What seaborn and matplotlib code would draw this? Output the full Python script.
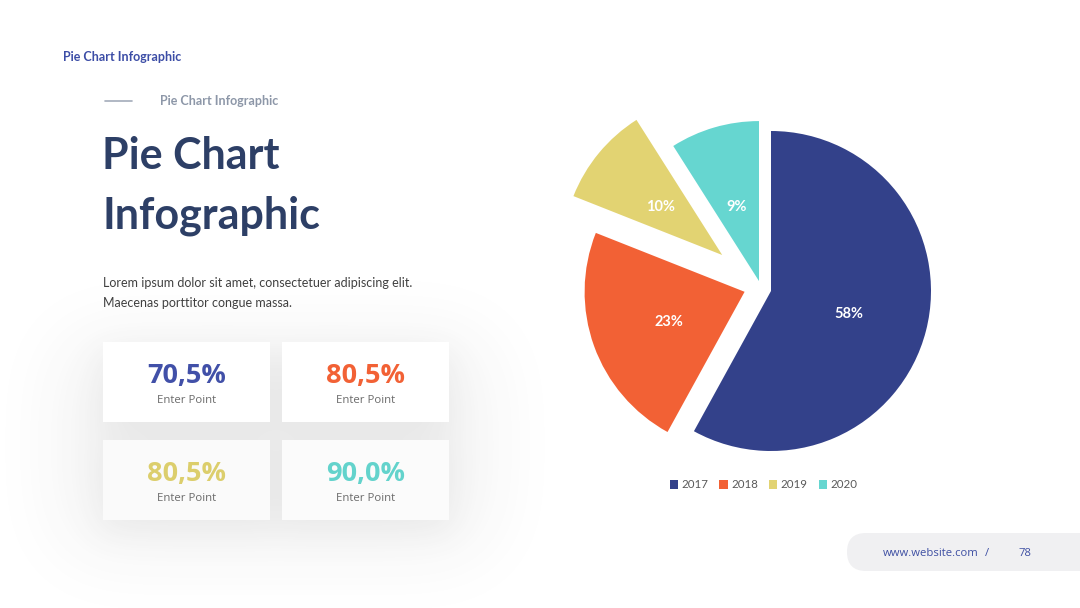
import math
import numpy as np
import matplotlib
matplotlib.use("Agg")
import matplotlib.pyplot as plt
from matplotlib.patches import Rectangle, FancyBboxPatch
import seaborn as sns

# pie data
years = ["2017", "2018", "2019", "2020"]
shares = [58, 23, 10, 9]
pie_colors = ["#33418A", "#F26135", "#E2D372", "#66D6D0"]
# how far each slice is pulled out (pie radius units, x right / y up)
slice_offsets = [(0.0, 0.0), (-0.165, -0.005), (-0.305, 0.225), (-0.075, 0.062)]

# stat cards
card_values = ["70,5%", "80,5%", "80,5%", "90,0%"]
card_labels = ["Enter Point", "Enter Point", "Enter Point", "Enter Point"]
card_colors = ["#4150A8", "#F26135", "#DCCE6C", "#63D3CC"]

header = "Pie Chart Infographic"
title_lines = ["Pie Chart", "Infographic"]
body_lines = ["Lorem ipsum dolor sit amet, consectetuer adipiscing elit.",
              "Maecenas porttitor congue massa."]

sns.set_theme(style="white")
plt.rcParams["font.family"] = ["Lato", "DejaVu Sans"]
palette = sns.color_palette(pie_colors)

W, H = 1080, 608
fig = plt.figure(figsize=(W / 100, H / 100), dpi=100, facecolor="white")

# background axes in pixel coordinates (y down)
bg = fig.add_axes([0, 0, 1, 1])
bg.set_xlim(0, W)
bg.set_ylim(H, 0)
bg.axis("off")

# soft shadow under the cards
erf = np.vectorize(math.erf)
X = np.arange(W) + 0.5
Y = np.arange(H) + 0.5


def blur_rect(x0, x1, y0, y1, s):
    k = s * math.sqrt(2)
    gx = 0.5 * (erf((X - x0) / k) - erf((X - x1) / k))
    gy = 0.5 * (erf((Y - y0) / k) - erf((Y - y1) / k))
    return np.outer(gy, gx)


card_boxes = [(103, 270, 342, 422), (282, 449, 342, 422),
              (103, 270, 440, 520), (282, 449, 440, 520)]
shade = np.zeros((H, W))
for x0, x1, y0, y1 in card_boxes:
    shade += 0.05 * blur_rect(x0 - 4, x1 + 4, y0 + 6, y1 + 14, 16)
shade += 0.075 * blur_rect(70, 480, 345, 545, 40)
shade = np.clip(shade, 0, 1)
rgba = np.zeros((H, W, 4))
rgba[..., :3] = 0.25
rgba[..., 3] = shade
bg.imshow(rgba, extent=(0, W, H, 0), zorder=1, interpolation="bilinear", aspect="auto")

card_face = ["#FFFFFF", "#FFFFFF", "#FAFAFA", "#FBFBFB"]
for (x0, x1, y0, y1), val, lab, col, face in zip(card_boxes, card_values, card_labels,
                                                 card_colors, card_face):
    bg.add_patch(Rectangle((x0, y0), x1 - x0, y1 - y0, facecolor=face,
                           edgecolor="none", zorder=2))
    cx = (x0 + x1) / 2
    bg.text(cx, y0 + 41, val, ha="center", va="baseline", fontsize=19.5,
            fontweight="bold", color=col, family=["Open Sans", "DejaVu Sans"], zorder=3)
    bg.text(cx, y0 + 61, lab, ha="center", va="baseline", fontsize=8.2,
            color="#6A6A6A", family=["Open Sans", "DejaVu Sans"], zorder=3)

# header texts
bg.text(63, 61, header, ha="left", va="baseline", fontsize=9,
        fontweight="bold", color="#3C4DA6")
bg.plot([105, 132], [100.5, 100.5], color="#A3ABBA", lw=1.2)
bg.text(160, 105, header, ha="left", va="baseline", fontsize=9,
        fontweight="bold", color="#8D97A8")
bg.text(102, 169, title_lines[0], ha="left", va="baseline", fontsize=31,
        fontweight="bold", color="#2D3F66")
bg.text(102, 228, title_lines[1], ha="left", va="baseline", fontsize=31,
        fontweight="bold", color="#2D3F66")
for i, line in enumerate(body_lines):
    bg.text(103, 287 + 20 * i, line, ha="left", va="baseline", fontsize=9,
            color="#404040")

# footer pill
bg.add_patch(FancyBboxPatch((847, 533), 320, 38,
                            boxstyle="round,pad=0,rounding_size=19",
                            facecolor="#F0F0F2", edgecolor="none", zorder=1))
bg.text(883, 556, "www.website.com", ha="left", va="baseline", fontsize=8.1,
        color="#3E4FA3", family=["Open Sans", "DejaVu Sans"])
bg.text(985, 556, "/", ha="left", va="baseline", fontsize=8.1,
        color="#3E4FA3", family=["Open Sans", "DejaVu Sans"])
bg.text(1018, 556, "78", ha="left", va="baseline", fontsize=8.1,
        color="#3E4FA3", family=["Open Sans", "DejaVu Sans"])

# pie, centred at (771, 291) px with radius 160 px
cx, cy, half = 771, 291, 200
ax = fig.add_axes([(cx - half) / W, 1 - (cy + half) / H, 2 * half / W, 2 * half / H])
wedges, texts, autotexts = ax.pie(
    shares, colors=palette, startangle=90, counterclock=False,
    autopct=lambda p: f"{p:.0f}%", pctdistance=0.5,
    wedgeprops=dict(linewidth=0),
    textprops=dict(color="white", fontsize=10.5, fontweight="bold"),
)
for w, t, (dx, dy) in zip(wedges, autotexts, slice_offsets):
    w.set_center((dx, dy))
    x, y = t.get_position()
    t.set_position((x + dx, y + dy - 0.02))
ax.set_xlim(-1.25, 1.25)
ax.set_ylim(-1.25, 1.25)
ax.axis("off")

leg = ax.legend(wedges, years, loc="center", bbox_to_anchor=(763.5 / W, 1 - 485 / H),
                bbox_transform=fig.transFigure, ncol=4, frameon=False, fontsize=8.3,
                handlelength=0.72, handleheight=0.72, handletextpad=0.3,
                columnspacing=0.95, labelcolor="#595959")

fig.savefig("out.png", dpi=100, facecolor="white")
